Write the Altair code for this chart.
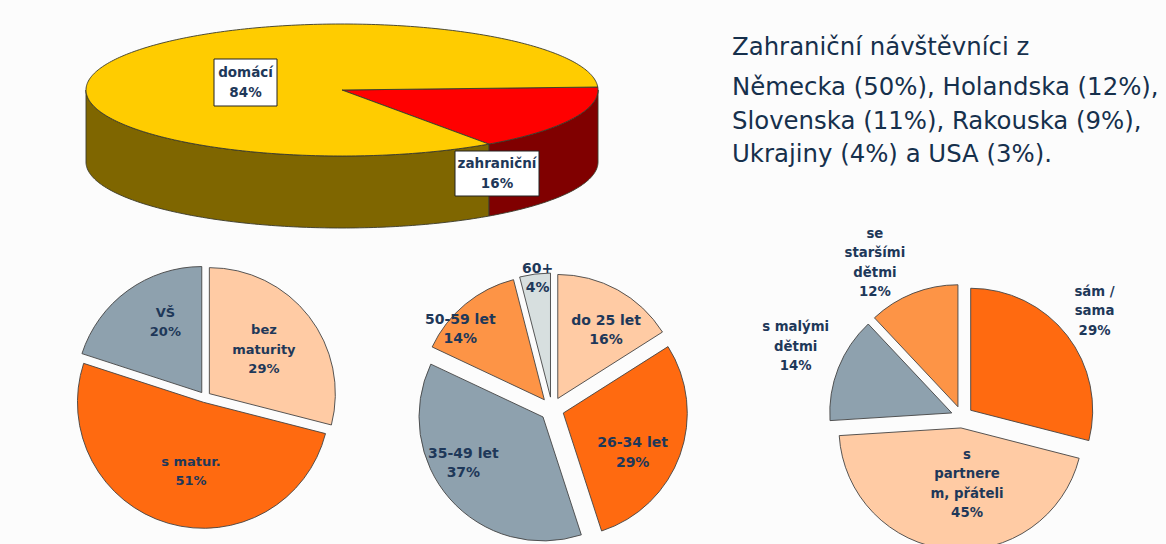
import numpy as np
import pandas as pd
import altair as alt

W, H = 1166, 544

# ---------------- data ----------------
top_labels = ["zahraniční", "domácí"]
top_values = [16, 84]
top_colors = ["#FF0000", "#FFCC00"]
top_side_colors = ["#800000", "#7F6600"]

edu_labels = ["bez\nmaturity", "s matur.", "VŠ"]
edu_values = [29, 51, 20]
edu_colors = ["#FFCBA4", "#FF6A10", "#8EA1AE"]

age_labels = ["do 25 let", "26-34 let", "35-49 let", "50-59 let", "60+"]
age_values = [16, 29, 37, 14, 4]
age_colors = ["#FFCBA4", "#FF6A10", "#8EA1AE", "#FD9446", "#D7DFDF"]

comp_labels = ["sám /\nsama", "s\npartnere\nm, přáteli", "s malými\ndětmi", "se\nstaršími\ndětmi"]
comp_values = [29, 45, 14, 12]
comp_colors = ["#FF6A10", "#FFCBA4", "#8EA1AE", "#FD9446"]

info_title = "Zahraniční návštěvníci z"
info_lines = ["Německa (50%), Holandska (12%),",
              "Slovenska (11%), Rakouska (9%),",
              "Ukrajiny (4%) a USA (3%)."]

# ---------------- layout / style ----------------
NAVY = "#1E3859"
OUTLINE = "#444444"
FONT = "DejaVu Sans"
LH = 19.5

TOP_CX, TOP_CY, TOP_RX, TOP_RY, TOP_DEPTH = 342, 90, 256, 66, 72
TOP_START = 87.4  # degrees clockwise from 12 o'clock
TOP_BOXES = [(455, 151, 539, 196), (214, 59, 277, 106)]  # per top label

PIES = [
    # labels, values, colors, cx, cy, r, explode, label radius frac, label angle delta, font size
    (edu_labels, edu_values, edu_colors, 205, 397, 126, 5.5,
     [0.60, 0.60, 0.67], [-1, -5.5, 8], 13),
    (age_labels, age_values, age_colors, 552, 409, 124, 12,
     [0.77, 0.74, 0.84, 0.98, 1.06], [5.7, 8.7, 9.7, -9.4, 0.9], 14),
    (comp_labels, comp_values, comp_colors, 962, 417, 122, 11,
     [1.39, 0.55, 1.48, 1.45], [-0.8, -9.7, 1.3, -7.9], 13.3),
]

XN = dict(scale=None, axis=None)
YN = dict(scale=None, axis=None)


def flat_pie(labels, values, colors, cx, cy, r, d, lfrac, ldang, fs):
    df = pd.DataFrame({"label": labels, "value": values, "color": colors,
                       "order": list(range(len(values))), "lf": lfrac, "lda": ldang})
    base = (
        alt.Chart(df)
        .transform_window(cum="sum(value)", sort=[alt.SortField("order")], frame=[None, 0])
        .transform_joinaggregate(total="sum(value)")
        .transform_calculate(a0="2*PI*(datum.cum - datum.value)/datum.total")
        .transform_calculate(a1="2*PI*datum.cum/datum.total")
        .transform_calculate(mid="(datum.a0 + datum.a1)/2")
        .transform_calculate(px=f"{cx} + {d}*sin(datum.mid)")
        .transform_calculate(py=f"{cy} - {d}*cos(datum.mid)")
        .transform_calculate(la="datum.mid + datum.lda*PI/180")
        .transform_calculate(txt="datum.label + '\\n' + datum.value + '%'")
        .transform_calculate(nl="length(split(datum.txt, '\\n'))")
        .transform_calculate(lx=f"{cx} + datum.lf*{r}*sin(datum.la)")
        .transform_calculate(ly=f"{cy} - datum.lf*{r}*cos(datum.la) - (datum.nl - 1)*{LH}/2")
    )
    arcs = base.mark_arc(outerRadius=r, stroke=OUTLINE, strokeWidth=0.9).encode(
        x=alt.X("px:Q", **XN), y=alt.Y("py:Q", **YN),
        theta=alt.Theta("a0:Q", scale=None), theta2="a1:Q",
        fill=alt.Fill("color:N", scale=None),
    )
    texts = base.mark_text(font=FONT, fontWeight="bold", fontSize=fs, color=NAVY,
                           lineBreak="\n", lineHeight=LH, align="center",
                           baseline="middle").encode(
        x=alt.X("lx:Q", **XN), y=alt.Y("ly:Q", **YN), text="txt:N")
    return [arcs, texts]


# ---------------- 3D pie geometry (built from top_values) ----------------
def ex(phi):
    return TOP_CX + TOP_RX * np.sin(np.radians(phi))


def ey(phi):
    return TOP_CY - TOP_RY * np.cos(np.radians(phi))


def arc_phis(a0, a1, step=1.0):
    n = max(2, int(np.ceil(abs(a1 - a0) / step)) + 1)
    return np.linspace(a0, a1, n)


side_rows, face_rows = [], []
shares = np.array(top_values, float) / np.sum(top_values)
edges = TOP_START + 360 * np.concatenate([[0], np.cumsum(shares)])
for k in range(len(top_values)):
    a0, a1 = edges[k], edges[k + 1]
    for off in (0, 360):
        lo, hi = max(a0, 90 + off), min(a1, 270 + off)
        if hi > lo:
            ph = arc_phis(lo, hi)
            xs, ys = ex(ph), ey(ph)
            pts = list(zip(xs, ys)) + list(zip(xs[::-1], ys[::-1] + TOP_DEPTH))
            pts.append(pts[0])
            for i, (x, y) in enumerate(pts):
                side_rows.append({"poly": f"s{k}_{off}", "i": i, "x": x, "y": y,
                                  "color": top_side_colors[k]})
    ph = arc_phis(a0, a1)
    pts = [(TOP_CX, TOP_CY)] + list(zip(ex(ph), ey(ph))) + [(TOP_CX, TOP_CY)]
    for i, (x, y) in enumerate(pts):
        face_rows.append({"poly": f"t{k}", "i": i, "x": x, "y": y, "color": top_colors[k]})


def polys(rows):
    return alt.Chart(pd.DataFrame(rows)).mark_line(
        filled=True, stroke="#3A3A2A", strokeWidth=0.9, interpolate="linear"
    ).encode(
        x=alt.X("x:Q", **XN), y=alt.Y("y:Q", **YN),
        fill=alt.Fill("color:N", scale=None),
        detail="poly:N", order=alt.Order("i:Q"),
    )


layers = [polys(side_rows), polys(face_rows)]

# top pie label boxes
box_df = pd.DataFrame({
    "txt": [f"{l}\n{v}%" for l, v in zip(top_labels, top_values)],
    "x0": [b[0] for b in TOP_BOXES], "y0": [b[1] for b in TOP_BOXES],
    "x1": [b[2] for b in TOP_BOXES], "y1": [b[3] for b in TOP_BOXES],
})
box_base = alt.Chart(box_df).transform_calculate(
    xc="(datum.x0 + datum.x1)/2", yc="(datum.y0 + datum.y1)/2 - 10")
layers.append(box_base.mark_rect(fill="white", stroke="#222222", strokeWidth=1).encode(
    x=alt.X("x0:Q", **XN), x2="x1:Q", y=alt.Y("y0:Q", **YN), y2="y1:Q"))
layers.append(box_base.mark_text(font=FONT, fontWeight="bold", fontSize=13.5, color=NAVY,
                                 lineBreak="\n", lineHeight=20, align="center",
                                 baseline="middle").encode(
    x=alt.X("xc:Q", **XN), y=alt.Y("yc:Q", **YN), text="txt:N"))

for p in PIES:
    layers += flat_pie(*p)

# info text
info_df = pd.DataFrame({"t": [info_title] + info_lines, "row": [0, 1, 2, 3]})
info_y = [55, 95, 128.5, 162]
info_df["y"] = [info_y[i] for i in info_df["row"]]
layers.append(alt.Chart(info_df).mark_text(
    font=FONT, fontSize=24.4, color="#16304C", align="left", baseline="alphabetic"
).encode(x=alt.value(732), y=alt.Y("y:Q", **YN), text="t:N"))

chart = alt.layer(*layers).properties(
    width=W, height=H, autosize=alt.AutoSizeParams(type="none"), padding=0,
    background="#FCFCFC",
).configure_view(stroke=None)

chart.save("out.html", embed_options={"renderer": "svg", "actions": False})
